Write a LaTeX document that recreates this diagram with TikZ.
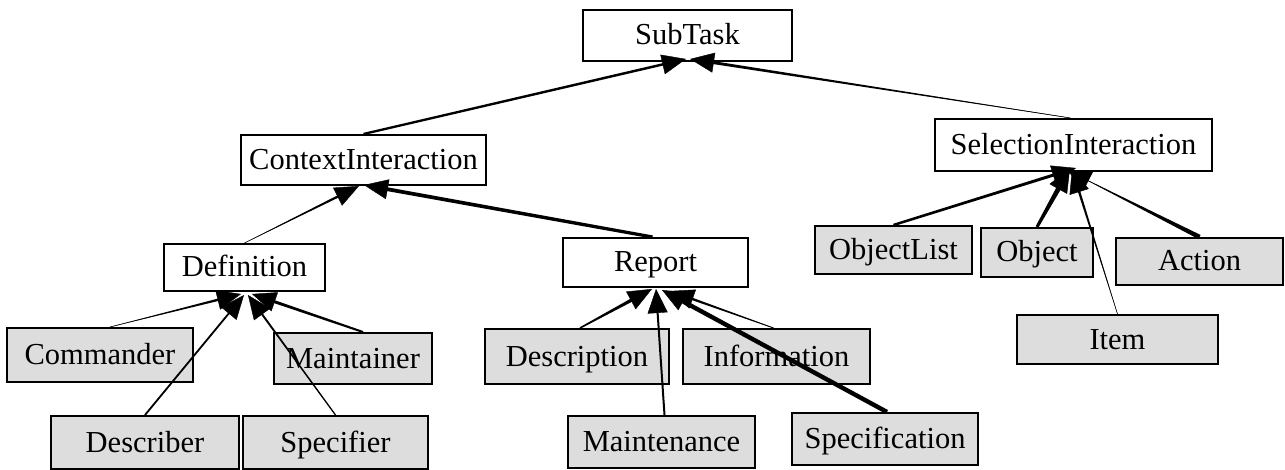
\documentclass[tikz,border=0pt]{standalone}
\usepackage{fontspec}
\setmainfont{Liberation Serif}
\usetikzlibrary{arrows.meta,calc}
\definecolor{leafgray}{RGB}{221,221,221}
\tikzset{
  box/.style={draw=black, line width=2pt, fill=white, inner sep=0pt, anchor=center,
    text height=24pt, text depth=5pt, font=\fontsize{30.5}{36}\selectfont},
  leaf/.style={box, fill=leafgray},
  edge/.style={draw=black, line width=0.4pt, -{Triangle[length=24pt,width=20pt]}},
}
% #1 child anchor, #2 tip, #3 half width at child, #4 half width at parent
\newcommand\tconn[4]{%
  \coordinate (cA) at (#1);
  \coordinate (cB) at ($(#2)!18pt!(cA)$);
  \fill[black] ($(cA)!#3!90:(cB)$) -- ($(cB)!#4!-90:(cA)$) -- ($(cB)!#4!90:(cA)$) -- ($(cA)!#3!-90:(cB)$) -- cycle;
  \draw[edge] (#1) -- (#2);
}
\begin{document}
\begin{tikzpicture}[x=1pt,y=-1pt]
\useasboundingbox (0,0) rectangle (1285,470);
% arrow tip points
\coordinate (tST1) at (686,59);
\coordinate (tST2) at (690,59);
\coordinate (tCI1) at (359,186);
\coordinate (tCI2) at (364,185);
\coordinate (tDef1) at (241,294);
\coordinate (tDef2) at (244,295);
\coordinate (tDef3) at (248,295);
\coordinate (tDef4) at (252,294);
\coordinate (tRep1) at (652,289);
\coordinate (tRep2) at (656,289);
\coordinate (tRep3) at (662,290);
\coordinate (tRep4) at (670,291);
\coordinate (tSI1) at (1076,168);
\coordinate (tSI2) at (1070,168);
\coordinate (tSI3) at (1072,169);
\coordinate (tSI4) at (1067,170);
% nodes
\node[box, minimum width=209pt, minimum height=51pt] (SubTask) at (687.5,35.5) {SubTask};
\node[box, minimum width=245pt, minimum height=50pt] (CI) at (363.5,160) {ContextInteraction};
\node[box, minimum width=277pt, minimum height=52pt] (SI) at (1073.5,145) {SelectionInteraction};
\node[box, minimum width=161pt, minimum height=47pt] (Def) at (244.5,267.5) {Definition};
\node[box, minimum width=185pt, minimum height=49pt] (Rep) at (655.5,262.5) {Report};
\node[leaf, minimum width=186pt, minimum height=54pt] (Com) at (100,355) {Commander};
\node[leaf, minimum width=158pt, minimum height=51pt] (Mai) at (353,358.5) {Maintainer};
\node[leaf, minimum width=188pt, minimum height=53pt] (Des) at (145,442.5) {Describer};
\node[leaf, minimum width=185pt, minimum height=53pt] (Spe) at (335.5,442.5) {Specifier};
\node[leaf, minimum width=184pt, minimum height=55pt] (Dsc) at (577,356.5) {Description};
\node[leaf, minimum width=187pt, minimum height=55pt] (Inf) at (776.5,356.5) {Information};
\node[leaf, minimum width=187pt, minimum height=52pt] (Mnt) at (661.5,442) {Maintenance};
\node[leaf, minimum width=186pt, minimum height=52pt] (Spc) at (885,439) {Specification};
\node[leaf, minimum width=157pt, minimum height=48pt] (OL) at (893.5,250) {ObjectList};
\node[leaf, minimum width=112pt, minimum height=49pt] (Obj) at (1037,252.5) {Object};
\node[leaf, minimum width=167pt, minimum height=47pt] (Act) at (1199.5,261.5) {Action};
\node[leaf, minimum width=201pt, minimum height=49pt] (Itm) at (1117.5,339.5) {Item};
% connectors
\tconn{CI.north}{tST1}{1.15pt}{1.25pt}
\tconn{$(SI.north)+(-3,0)$}{tST2}{0.2pt}{1.5pt}
\tconn{Def.north}{tCI1}{0.15pt}{1.25pt}
\tconn{$(Rep.north)+(-3,0)$}{tCI2}{1.6pt}{1.9pt}
\tconn{$(Com.north)+(10,0)$}{tDef1}{0.15pt}{1.25pt}
\tconn{Des.north}{tDef2}{0.9pt}{0.9pt}
\tconn{Spe.north}{tDef3}{0.6pt}{1pt}
\tconn{$(Mai.north)+(10,0)$}{tDef4}{1pt}{1.5pt}
\tconn{$(Dsc.north)+(3,0)$}{tRep1}{0.75pt}{1.75pt}
\tconn{$(Mnt.north)+(3,0)$}{tRep2}{1pt}{1pt}
\tconn{$(Spc.north)+(2,0)$}{tRep3}{2.2pt}{2.2pt}
\tconn{$(Inf.north)+(-3,0)$}{tRep4}{0.4pt}{1.25pt}
\tconn{OL.north}{tSI1}{1.25pt}{1.5pt}
\tconn{Obj.north}{tSI2}{1.5pt}{2.5pt}
\tconn{Itm.north}{tSI3}{0.15pt}{1.25pt}
\tconn{Act.north}{tSI4}{2.3pt}{0.25pt}
\end{tikzpicture}
\end{document}
